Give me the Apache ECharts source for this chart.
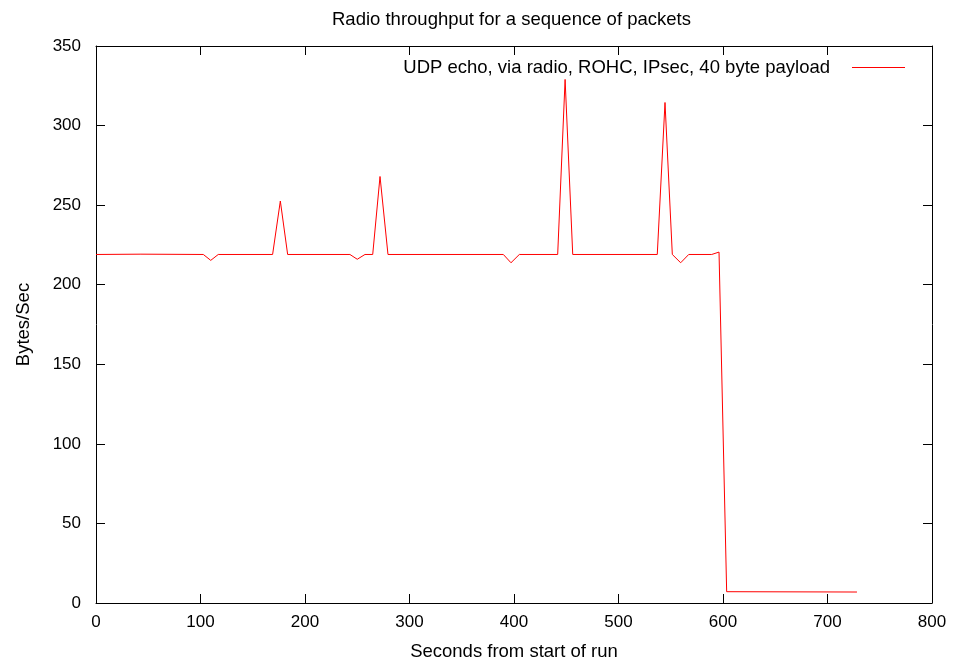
<!DOCTYPE html>
<html>
<head>
<meta charset="utf-8">
<script src="https://cdn.jsdelivr.net/npm/echarts@6/dist/echarts.min.js"></script>
<style>html,body{margin:0;padding:0;background:#fff}#c{width:953px;height:660px}</style>
</head>
<body>
<div id="c"></div>
<script>
// Data
var seconds = [0, 43, 102.7, 109.8, 117, 169, 176.4, 183.4, 243, 250, 257.4, 264.8, 271.8, 279.4,
  389.8, 397.1, 405.1, 441.8, 448.9, 456.2, 537.1, 544.5, 551.5, 559.5, 567.2, 589.2, 596.2, 603.5, 728.2];
var bytesPerSec = [219, 219.2, 219, 215.3, 219, 219, 252.6, 219, 219, 216, 219, 219, 268, 219,
  219, 213.8, 219, 219, 329, 219, 219, 314.5, 219, 213.8, 219, 219, 220.5, 7.1, 6.9];
var xTicks = [0, 100, 200, 300, 400, 500, 600, 700, 800];
var yTicks = [0, 50, 100, 150, 200, 250, 300, 350];
var seriesName = 'UDP echo, via radio, ROHC, IPsec, 40 byte payload';

var points = seconds.map(function (s, i) { return [s, bytesPerSec[i]]; });
var font = 'Liberation Sans, Arial, sans-serif';
var axisLine = { show: true, onZero: false, lineStyle: { color: '#000', width: 1 } };
var tick = { show: true, inside: true, length: 9, lineStyle: { color: '#000' } };

var chart = echarts.init(document.getElementById('c'), null, { renderer: 'canvas' });
chart.setOption({
  animation: false,
  backgroundColor: '#fff',
  title: {
    text: 'Radio throughput for a sequence of packets',
    left: 327, top: 5,
    textStyle: { fontFamily: font, fontSize: 18.5, fontWeight: 'normal', color: '#000' }
  },
  legend: {
    data: [seriesName],
    right: 43, top: 53,
    align: 'right',
    icon: 'rect',
    itemWidth: 53, itemHeight: 1,
    itemStyle: { color: '#ff0000', borderWidth: 0 },
    textStyle: { fontFamily: font, fontSize: 18.5, color: '#000', padding: [0, 17, 0, 0] }
  },
  grid: { left: 96, right: 21, top: 46, bottom: 57, outerBoundsMode: 'none', containLabel: false },
  xAxis: [{
    type: 'value', min: 0, max: 800, interval: 100,
    name: 'Seconds from start of run', nameLocation: 'middle', nameGap: 39,
    nameTextStyle: { fontFamily: font, fontSize: 18.5, color: '#000' },
    axisLine: axisLine, axisTick: tick,
    axisLabel: { fontFamily: font, fontSize: 17, color: '#000', margin: 11,
      formatter: function (v) { return xTicks.indexOf(v) >= 0 ? String(v) : ''; } },
    splitLine: { show: false }
  }, {
    type: 'value', position: 'top', min: 0, max: 800, interval: 100,
    axisLine: axisLine, axisTick: tick, axisLabel: { show: false }, splitLine: { show: false }
  }],
  yAxis: [{
    type: 'value', min: 0, max: 350, interval: 50,
    name: 'Bytes/Sec', nameLocation: 'middle', nameGap: 63, nameRotate: 90,
    nameTextStyle: { fontFamily: font, fontSize: 18.5, color: '#000' },
    axisLine: axisLine, axisTick: tick,
    axisLabel: { fontFamily: font, fontSize: 17, color: '#000', margin: 15,
      formatter: function (v) { return yTicks.indexOf(v) >= 0 ? String(v) : ''; } },
    splitLine: { show: false }
  }, {
    type: 'value', position: 'right', min: 0, max: 350, interval: 50,
    axisLine: axisLine, axisTick: tick, axisLabel: { show: false }, splitLine: { show: false }
  }],
  series: [{
    name: seriesName,
    type: 'line',
    xAxisIndex: 0, yAxisIndex: 0,
    data: points,
    symbol: 'none',
    lineStyle: { color: '#ff0000', width: 1 },
    itemStyle: { color: '#ff0000' }
  }]
});
</script>
</body>
</html>
